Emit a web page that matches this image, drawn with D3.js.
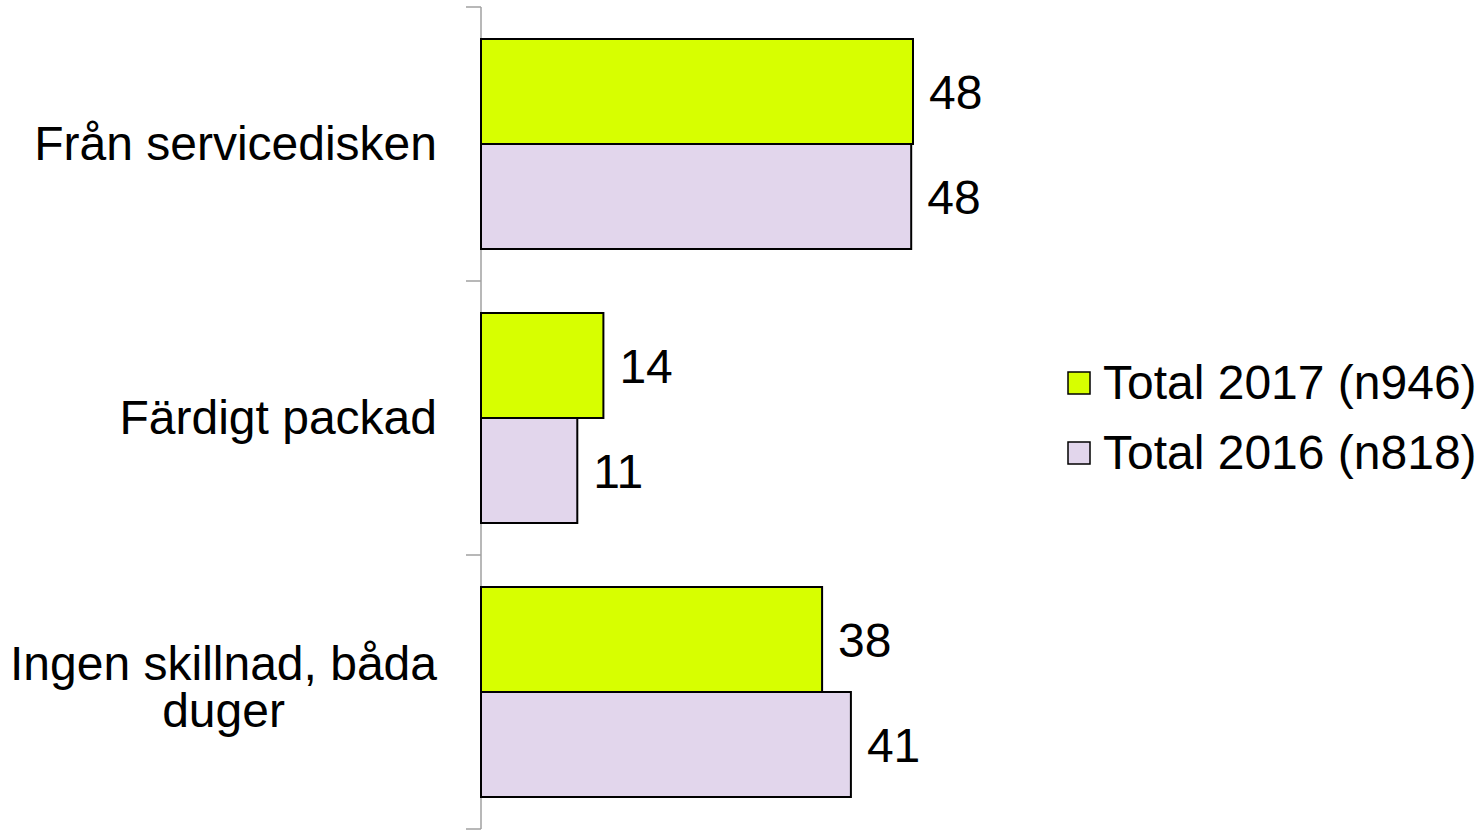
<!DOCTYPE html>
<html>
<head>
<meta charset="utf-8">
<script src="https://cdn.jsdelivr.net/npm/d3@7"></script>
<style>
  body { margin: 0; background: #fff; }
  text { font-family: "Liberation Sans", Arial, sans-serif; }
</style>
</head>
<body>
<div id="chart"></div>
<script>
// data
const categories = ["Från servicedisken", "Färdigt packad", "Ingen skillnad, båda duger"];
const labelLines = [["Från servicedisken"], ["Färdigt packad"], ["Ingen skillnad, båda", "duger"]];
const seriesNames = ["Total 2017 (n946)", "Total 2016 (n818)"];
const values2017 = [48.0, 13.6, 37.9];
const values2016 = [47.8, 10.7, 41.1];
const colors = ["#d7ff00", "#e2d6ec"];

const W = 1484, H = 830;
const svg = d3.select("#chart").append("svg")
  .attr("width", W)
  .attr("height", H);

const axisX = 481;
const fontSize = "48px";

const x = d3.scaleLinear()
  .domain([0, 50])
  .range([axisX, axisX + 450]);

const y0 = d3.scaleBand()
  .domain(categories)
  .range([7, 829])
  .paddingInner(0.2336)
  .paddingOuter(0.1168);

const y1 = d3.scaleBand()
  .domain(seriesNames)
  .range([0, y0.bandwidth()]);

const rows = categories.map((c, i) => ({
  cat: c,
  vals: [values2017[i], values2016[i]]
}));

// axis line with tick marks at category boundaries
const step = y0.step();
const axisTop = y0.range()[0];
svg.append("line")
  .attr("x1", axisX).attr("x2", axisX)
  .attr("y1", axisTop).attr("y2", axisTop + step * categories.length)
  .attr("stroke", "#a0a0a0")
  .attr("stroke-width", 1.5);

d3.range(categories.length + 1).forEach(i => {
  svg.append("line")
    .attr("x1", axisX - 15).attr("x2", axisX)
    .attr("y1", axisTop + i * step).attr("y2", axisTop + i * step)
    .attr("stroke", "#a0a0a0")
    .attr("stroke-width", 1.5);
});

// bars
const groups = svg.selectAll("g.grp")
  .data(rows)
  .enter()
  .append("g")
  .attr("class", "grp")
  .attr("transform", d => `translate(0, ${y0(d.cat)})`);

groups.selectAll("rect")
  .data(d => d.vals.map((v, j) => ({ v, s: seriesNames[j], j })))
  .enter()
  .append("rect")
  .attr("x", x(0))
  .attr("y", d => y1(d.s))
  .attr("width", d => x(d.v) - x(0))
  .attr("height", y1.bandwidth())
  .attr("fill", d => colors[d.j])
  .attr("stroke", "#000")
  .attr("stroke-width", 2);

groups.selectAll("text.val")
  .data(d => d.vals.map((v, j) => ({ v, s: seriesNames[j], j })))
  .enter()
  .append("text")
  .attr("class", "val")
  .attr("x", d => x(d.v) + 16)
  .attr("y", d => y1(d.s) + y1.bandwidth() / 2)
  .attr("dy", "0.36em")
  .attr("font-size", fontSize)
  .attr("fill", "#000")
  .text(d => d3.format(".0f")(d.v));

// category labels, wrapped lines centred on each other, right edge at 437
const labelRight = 437;
const lineH = 47;
categories.forEach((c, i) => {
  const lines = labelLines[i];
  const cy = y0(c) + y0.bandwidth() / 2 - (lines.length - 1) * 5;
  const t = svg.append("text")
    .attr("font-size", fontSize)
    .attr("fill", "#000")
    .attr("text-anchor", "middle");
  lines.forEach((ln, k) => {
    t.append("tspan")
      .attr("y", cy + (k - (lines.length - 1) / 2) * lineH)
      .attr("dy", "0.34em")
      .text(ln);
  });
  const widths = [];
  t.selectAll("tspan").each(function () { widths.push(this.getComputedTextLength()); });
  const maxW = d3.max(widths);
  t.selectAll("tspan").attr("x", labelRight - maxW / 2);
});

// legend
const legend = svg.append("g")
  .attr("transform", "translate(1068, 383)");

seriesNames.forEach((s, i) => {
  const row = legend.append("g")
    .attr("transform", `translate(0, ${i * 70})`);
  row.append("rect")
    .attr("x", 0)
    .attr("y", -11)
    .attr("width", 22)
    .attr("height", 22)
    .attr("fill", colors[i])
    .attr("stroke", "#000")
    .attr("stroke-width", 1.5);
  row.append("text")
    .attr("x", 35)
    .attr("y", 0)
    .attr("dy", "0.34em")
    .attr("font-size", fontSize)
    .attr("fill", "#000")
    .text(s);
});
</script>
</body>
</html>
